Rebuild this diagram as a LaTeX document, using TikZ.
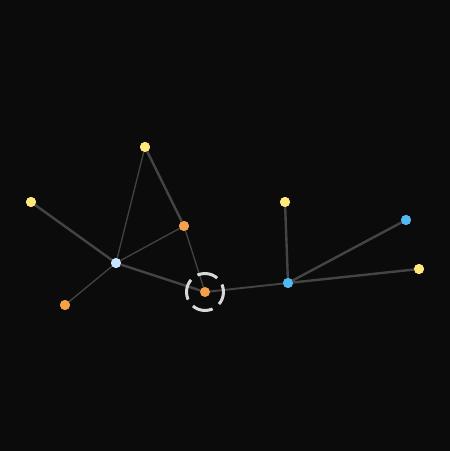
\documentclass[tikz,border=0pt]{standalone}
\definecolor{bg}{HTML}{0B0B0B}
\definecolor{edgec}{HTML}{444444}
\definecolor{ylw}{HTML}{FFE97A}
\definecolor{org}{HTML}{F5A04A}
\definecolor{lblue}{HTML}{C8E6FF}
\definecolor{blu}{HTML}{52BAF2}
\definecolor{ringc}{HTML}{D8D8D8}
\begin{document}
\begin{tikzpicture}[x=1pt,y=-1pt,
  dot/.style={circle,inner sep=0pt,minimum size=10pt,fill=#1},
  thinedge/.style={draw=edgec,line width=1.3pt},
  thickedge/.style={draw=edgec,line width=2.4pt},
  midedge/.style={draw=edgec,line width=1.9pt}]
\fill[bg] (0,0) rectangle (450,451);
\useasboundingbox (0,0) rectangle (450,451);
\coordinate (Cc) at (205,292);
\node[circle,inner sep=0pt,minimum size=37pt] (ring) at (Cc) {};
\node[dot=ylw] (Y1) at (145,147) {};
\node[dot=ylw] (Y2) at (31,202) {};
\node[dot=org] (O1) at (184,226) {};
\node[dot=lblue] (L) at (116,263) {};
\node[dot=org] (O2) at (65,305) {};
\node[dot=ylw] (Y3) at (285,202) {};
\node[dot=blu] (B1) at (288,283) {};
\node[dot=blu] (B2) at (406,220) {};
\node[dot=ylw] (Y4) at (419,269) {};
\begin{scope}[on background layer/.style={}]
\path[thinedge] (Y1.center) -- (L.center);
\path[thickedge] (Y1.center) -- (O1.center);
\path[thinedge] (O1.center) -- (L.center);
\path[thinedge] (O1.center) -- (Cc);
\path[thickedge] (Y2.center) -- (L.center);
\path[thinedge] (O2.center) -- (L.center);
\path[thickedge] (L.center) -- (Cc);
\path[midedge] (Cc) -- (B1.center);
\path[thickedge] (Y3.center) -- (B1.center);
\path[thickedge] (B1.center) -- (B2.center);
\path[thickedge] (B1.center) -- (Y4.center);
\end{scope}
\node[dot=ylw] at (Y1) {};
\node[dot=ylw] at (Y2) {};
\node[dot=org] at (O1) {};
\node[dot=lblue] at (L) {};
\node[dot=org] at (O2) {};
\node[dot=ylw] at (Y3) {};
\node[dot=blu] at (B1) {};
\node[dot=blu] at (B2) {};
\node[dot=ylw] at (Y4) {};
\node[dot=org] (C) at (Cc) {};
\draw[ringc,line width=3pt,dash pattern=on 21pt off 8.07pt,dash phase=7.9pt] (Cc) circle[radius=18.5];
\end{tikzpicture}
\end{document}
